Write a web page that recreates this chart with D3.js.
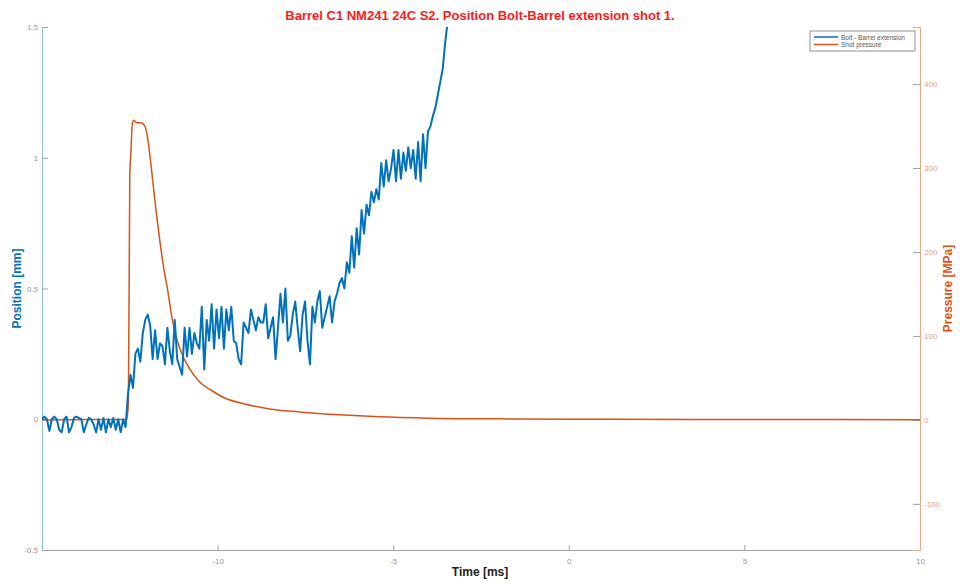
<!DOCTYPE html>
<html>
<head>
<meta charset="utf-8">
<script src="https://cdn.jsdelivr.net/npm/d3@7"></script>
<style>
  body { margin: 0; background: #fff; overflow: hidden; }
  svg { display: block; font-family: "Liberation Sans", Arial, sans-serif; }
</style>
</head>
<body>
<div id="chart"></div>
<script>
// position samples: start time, sample interval (ms), values (mm)
const posStart = -15;
const posStep = 0.07;
const positionValues = [
  0.0, 0.01, 0.0, -0.045, 0.0, 0.01, 0.0, -0.04, -0.05, 0.0,
  0.01, -0.05, -0.03, 0.005, 0.01, 0.005, 0.0, -0.05, -0.02, 0.005,
  0.0, -0.02, -0.05, 0.0, -0.04, 0.005, -0.05, 0.0, -0.03, 0.005,
  -0.04, 0.0, -0.05, 0.0, -0.03, 0.10, 0.17, 0.12, 0.25, 0.27,
  0.22, 0.33, 0.38, 0.40, 0.36, 0.23, 0.34, 0.23, 0.29, 0.28,
  0.21, 0.35, 0.26, 0.21, 0.38, 0.23, 0.20, 0.17, 0.35, 0.24,
  0.35, 0.25, 0.33, 0.29, 0.27, 0.43, 0.19, 0.38, 0.30, 0.44,
  0.27, 0.42, 0.31, 0.43, 0.27, 0.42, 0.34, 0.43, 0.30, 0.29,
  0.23, 0.21, 0.37, 0.35, 0.33, 0.42, 0.38, 0.34, 0.39, 0.37,
  0.37, 0.44, 0.31, 0.35, 0.39, 0.23, 0.35, 0.48, 0.37, 0.50,
  0.30, 0.32, 0.40, 0.45, 0.35, 0.26, 0.40, 0.45, 0.30, 0.21,
  0.43, 0.37, 0.45, 0.49, 0.35, 0.39, 0.43, 0.47, 0.37, 0.45,
  0.48, 0.52, 0.54, 0.50, 0.60, 0.56, 0.70, 0.58, 0.73, 0.63,
  0.80, 0.71, 0.82, 0.78, 0.87, 0.83, 0.88, 0.84, 0.98, 0.89,
  0.99, 0.91, 0.96, 1.03, 0.91, 1.03, 0.92, 1.02, 0.95, 1.04,
  0.96, 1.03, 0.92, 1.06, 0.91, 1.09, 0.96, 1.10, 1.12, 1.16,
  1.19, 1.24, 1.29, 1.34, 1.44, 1.52
];

// pressure: [time ms, MPa]
const pressureData = [
  [-15, 0], [-13.5, 0.5], [-12.59, 0.5], [-12.54, 20], [-12.5, 293], [-12.47, 317],
  [-12.43, 352], [-12.39, 357], [-12.30, 354], [-12.19, 354], [-12.07, 350],
  [-11.99, 335], [-11.90, 305], [-11.79, 263], [-11.65, 215], [-11.53, 180],
  [-11.42, 154], [-11.28, 117], [-11.14, 93], [-10.99, 76], [-10.80, 61],
  [-10.51, 45], [-10.17, 35], [-9.80, 26], [-9.23, 19], [-8.52, 13],
  [-7.67, 9.5], [-6.53, 6], [-5.40, 3.6], [-3.98, 2], [-1.99, 1.2],
  [0.85, 0.8], [3.69, 0.5], [10, 0.3]
];

const xTicks = [-10, -5, 0, 5, 10];
const posTicks = [-0.5, 0, 0.5, 1, 1.5];
const presTicks = [-100, 0, 100, 200, 300, 400];

const width = 964, height = 584;
const margin = { top: 27, right: 44, bottom: 34, left: 42 };
const innerWidth = width - margin.left - margin.right;
const innerHeight = height - margin.top - margin.bottom;

const blue = "#0072BD", orange = "#D95319";
const fmt = d => String(d);

const svg = d3.select("#chart").append("svg")
  .attr("width", width)
  .attr("height", height);

const g = svg.append("g")
  .attr("transform", `translate(${margin.left},${margin.top})`);

g.append("clipPath").attr("id", "plot-clip")
  .append("rect").attr("width", innerWidth).attr("height", innerHeight);

const x = d3.scaleLinear().domain([-15, 10]).range([0, innerWidth]);
const yPos = d3.scaleLinear().domain([-0.5, 1.5]).range([innerHeight, 0]);
const yPres = d3.scaleLinear().domain([-155, 468]).range([innerHeight, 0]);

// bottom axis
const xAxis = g.append("g")
  .attr("transform", `translate(0,${innerHeight})`)
  .call(d3.axisBottom(x).tickValues(xTicks).tickFormat(fmt).tickSize(-5).tickPadding(8));
xAxis.select(".domain").attr("stroke", "#a0a0a0");
xAxis.selectAll(".tick line").attr("stroke", "#a0a0a0");
xAxis.selectAll("text").attr("fill", "#999").attr("font-size", 8);

// left axis
const yAxisL = g.append("g")
  .call(d3.axisLeft(yPos).tickValues(posTicks).tickFormat(fmt).tickSize(-6).tickPadding(4));
yAxisL.select(".domain").attr("stroke", "#8fbde3");
yAxisL.selectAll(".tick line").attr("stroke", "#a0a0a0");
yAxisL.selectAll("text").attr("fill", "#999").attr("font-size", 8);

// right axis
const yAxisR = g.append("g")
  .attr("transform", `translate(${innerWidth},0)`)
  .call(d3.axisRight(yPres).tickValues(presTicks).tickFormat(fmt).tickSize(-7).tickPadding(4));
yAxisR.select(".domain").attr("stroke", "#eaa68a");
yAxisR.selectAll(".tick line").attr("stroke", "#a0a0a0");
yAxisR.selectAll("text").attr("fill", "#e0a090").attr("font-size", 8);

// lines
const plot = g.append("g").attr("clip-path", "url(#plot-clip)");

const posLine = d3.line()
  .x((d, i) => x(posStart + i * posStep))
  .y(d => yPos(d));

const presLine = d3.line()
  .x(d => x(d[0]))
  .y(d => yPres(d[1]))
  .curve(d3.curveMonotoneX);

plot.append("path")
  .datum(pressureData)
  .attr("fill", "none")
  .attr("stroke", orange)
  .attr("stroke-width", 1.5)
  .attr("d", presLine);

plot.append("path")
  .datum(positionValues)
  .attr("fill", "none")
  .attr("stroke", blue)
  .attr("stroke-width", 2)
  .attr("stroke-linejoin", "round")
  .attr("d", posLine);

// title and labels
svg.append("text")
  .attr("x", 480).attr("y", 20)
  .attr("text-anchor", "middle")
  .attr("font-weight", "bold")
  .attr("font-size", 13)
  .attr("fill", "#ff1a1a")
  .text("Barrel C1 NM241 24C S2. Position Bolt-Barrel extension shot 1.");

svg.append("text")
  .attr("x", 480).attr("y", 576)
  .attr("text-anchor", "middle")
  .attr("font-weight", "bold")
  .attr("font-size", 12)
  .attr("fill", "#222")
  .text("Time [ms]");

svg.append("text")
  .attr("transform", `translate(21,${margin.top + innerHeight / 2}) rotate(-90)`)
  .attr("text-anchor", "middle")
  .attr("font-weight", "bold")
  .attr("font-size", 12)
  .attr("fill", blue)
  .text("Position [mm]");

svg.append("text")
  .attr("transform", `translate(952,${margin.top + innerHeight / 2}) rotate(-90)`)
  .attr("text-anchor", "middle")
  .attr("font-weight", "bold")
  .attr("font-size", 12)
  .attr("fill", orange)
  .text("Pressure [MPa]");

// legend
const legend = svg.append("g").attr("transform", "translate(810,31)");
legend.append("rect")
  .attr("width", 105).attr("height", 20)
  .attr("fill", "#fff").attr("stroke", "#777").attr("stroke-width", 0.8);
const legendItems = [
  { label: "Bolt - Barrel extension", color: blue },
  { label: "Shot pressure", color: orange }
];
legendItems.forEach((d, i) => {
  legend.append("line")
    .attr("x1", 4).attr("x2", 28)
    .attr("y1", 6 + i * 7.5).attr("y2", 6 + i * 7.5)
    .attr("stroke", d.color).attr("stroke-width", 1.5);
  legend.append("text")
    .attr("x", 31).attr("y", 8.5 + i * 7.5)
    .attr("font-size", 6.5)
    .attr("fill", "#555")
    .text(d.label);
});
</script>
</body>
</html>
